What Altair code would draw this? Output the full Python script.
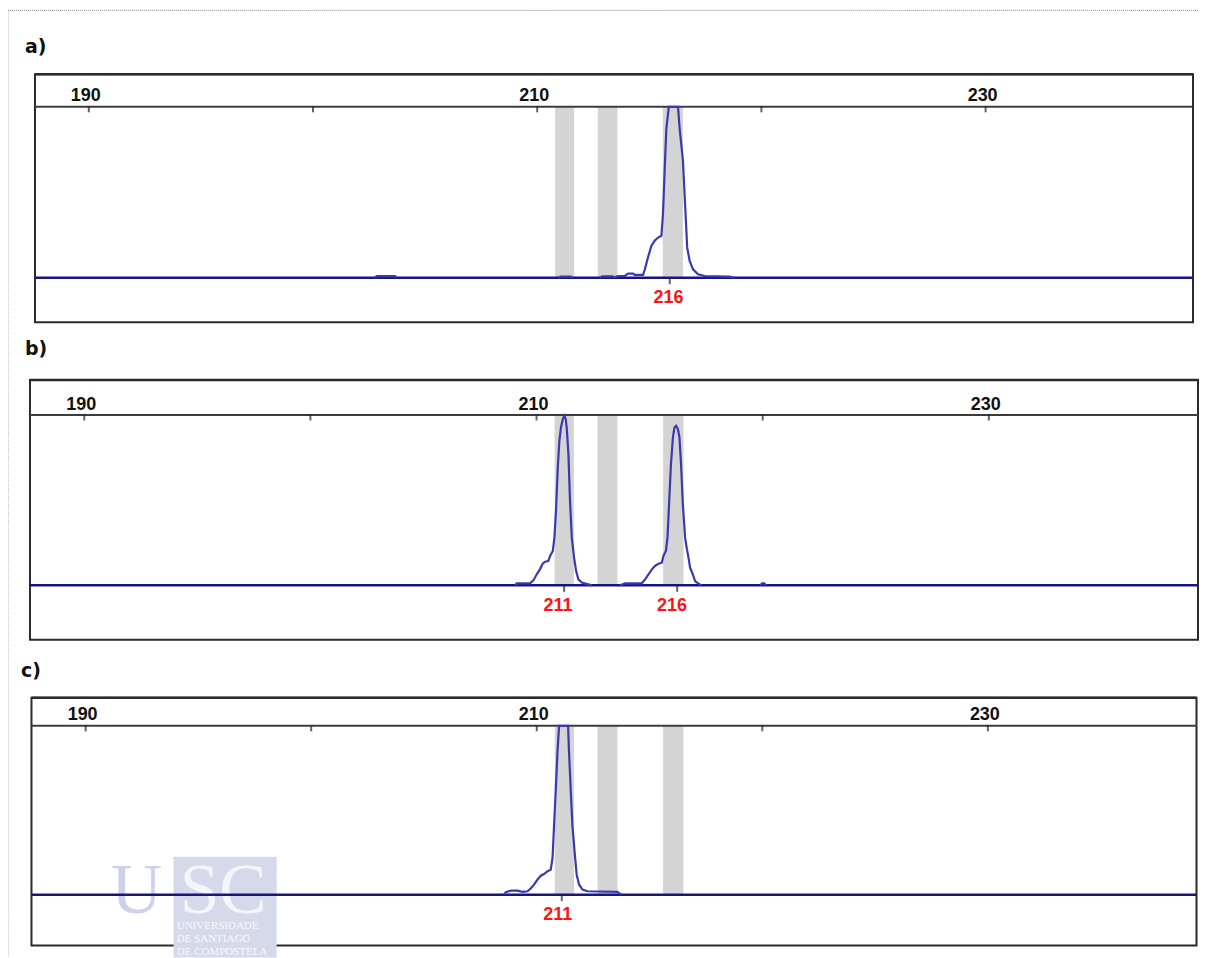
import altair as alt
import pandas as pd

# ---------------- data ----------------
X_DOMAIN = [187.6, 239.25]
tick_pos = [190, 200, 210, 220, 230]
label_pos = [190, 210, 230]
label_txt = ["190", "210", "230"]

bin_lo = [210.8, 212.7, 215.6]
bin_hi = [211.65, 213.58, 216.5]

# panel a trace (size in bp, relative height where 100 = top of the data area)
a_seg = [0, 0, 0, 0,
         1, 1, 1, 1,
         2, 2, 2, 2, 2, 2, 2, 2, 2, 2, 2, 2, 2, 2, 2, 2, 2, 2, 2, 2, 2, 2, 2, 2, 2, 2, 2, 2, 2, 2, 2]
a_bp = [202.75, 202.85, 203.65, 203.75,
        210.95, 211.05, 211.5, 211.6,
        212.8, 212.9, 213.35, 213.45, 213.61, 213.91, 214.05, 214.28, 214.35, 214.72, 214.80,
        214.94, 215.09, 215.24, 215.39, 215.54, 215.61, 215.69, 215.76, 215.87, 216.28, 216.36,
        216.50, 216.61, 216.69, 216.80, 216.95, 217.17, 217.47, 218.58, 218.80]
a_rfu = [0, 0.9, 0.9, 0,
         0, 0.7, 0.7, 0,
         0, 0.8, 0.8, 0.3, 1.0, 1.0, 2.4, 2.4, 1.6, 1.6, 4.9,
         11.8, 18.6, 21.6, 23.5, 24.5, 37.3, 64.7, 87.3, 100, 100, 86.3,
         68.6, 39.2, 17.6, 9.8, 4.9, 2.0, 1.0, 0.6, 0]

# panel b trace
b_seg = [0] * 29 + [1] * 29 + [2] * 4
b_bp = [209.05, 209.12, 209.71, 209.86, 210.01, 210.15, 210.27, 210.38, 210.52, 210.60,
        210.72, 210.79, 210.86, 210.94, 211.01, 211.08, 211.16, 211.23, 211.29, 211.34,
        211.41, 211.48, 211.56, 211.66, 211.75, 211.85, 212.00, 212.29, 212.44,
        213.69, 213.92, 214.65, 214.80, 214.95, 215.10, 215.24, 215.39, 215.54, 215.61,
        215.72, 215.79, 215.86, 215.94, 216.03, 216.10, 216.17, 216.25, 216.32, 216.39,
        216.47, 216.57, 216.65, 216.72, 216.79, 216.91, 217.01, 217.16, 217.31,
        219.90, 219.97, 220.07, 220.15]
b_rfu = [0, 1.2, 1.2, 2.9, 6.5, 9.4, 12.7, 13.9, 14.3, 17.3,
         20.2, 28, 43.7, 69.2, 84.9, 92.7, 97.6, 99.6, 97.6, 91.8,
         77, 49.6, 28, 16.3, 8.4, 3.5, 1.6, 0.6, 0,
         0, 1.2, 1.2, 3.5, 6.5, 9.4, 11.4, 12.7, 13.3, 17.3,
         20.2, 28, 47.6, 70.2, 86.9, 92.7, 93.7, 91.8, 86.9, 71.2,
         47.6, 28, 21.2, 16.3, 10.4, 6.5, 2.5, 1.0, 0,
         0, 1.2, 1.2, 0]

# panel c trace
c_seg = [0] * 29
c_bp = [208.55, 208.63, 208.85, 209.14, 209.37, 209.59, 209.73, 209.88, 210.03, 210.18,
        210.32, 210.47, 210.62, 210.70, 210.77, 210.84, 210.92, 210.99, 211.39, 211.43,
        211.51, 211.58, 211.69, 211.77, 211.88, 212.03, 212.25, 213.58, 213.73]
c_rfu = [0, 1.4, 2.4, 2.4, 1.6, 2.0, 3.6, 5.9, 8.9, 11.2,
         12.2, 13.8, 14.8, 21.7, 41.4, 61.1, 84.8, 100, 100, 84.8,
         61.1, 41.4, 23.7, 11.8, 5.9, 3.0, 2.0, 1.6, 0]

# called alleles: text, peak position (tick), label position
a_allele = ["216"]
a_allele_bp = [215.91]
a_allele_lbl = [215.86]
b_allele = ["211", "216"]
b_allele_bp = [211.22, 216.22]
b_allele_lbl = [210.95, 215.99]
c_allele = ["211"]
c_allele_bp = [211.11]
c_allele_lbl = [210.93]

wm_lines_txt = ["UNIVERSIDADE", "DE SANTIAGO", "DE COMPOSTELA"]

# ---------------- styling ----------------
TRACE = "#3a3aae"
BASE = "#16167e"
BIN = "#d4d4d4"
LABEL_FONT = "Liberation Sans"
ONE = pd.DataFrame({"k": [0]})


def panel(name, name_dx, name_dy, seg, bp, rfu, alleles, allele_bp, allele_lbl,
          width, height, ydom, watermark=False, frame=False):
    xs = alt.Scale(domain=X_DOMAIN, nice=False, zero=False)
    ys = alt.Scale(domain=ydom, nice=False, zero=False)

    trace_df = pd.DataFrame({"seg": seg, "bp": bp, "rfu": rfu})
    bins_df = pd.DataFrame({"lo": bin_lo, "hi": bin_hi})
    ticks_df = pd.DataFrame({"t": tick_pos})
    tlab_df = pd.DataFrame({"t": label_pos, "txt": label_txt})
    al_df = pd.DataFrame({"a": alleles, "bp": allele_bp, "lbl": allele_lbl})

    layers = []
    if frame:
        # dotted page frame (top and left)
        layers.append(alt.Chart(ONE).mark_rule(color="#8a8a8a", strokeWidth=1, strokeDash=[1, 1]).encode(
            x=alt.value(-27), y=alt.value(-64), y2=alt.value(884)))
        layers.append(alt.Chart(ONE).mark_rule(color="#8a8a8a", strokeWidth=1, strokeDash=[1, 1]).encode(
            x=alt.value(-27), x2=alt.value(1165), y=alt.value(-64)))

    bins = alt.Chart(bins_df).mark_rect(color=BIN).encode(
        x=alt.X("lo:Q", scale=xs, axis=None), x2="hi:Q",
        y=alt.YDatum(0, scale=ys, axis=None), y2=alt.Y2Datum(100))
    axis_line = alt.Chart(ONE).mark_rule(color="#3c3c3c", strokeWidth=2).encode(
        y=alt.YDatum(100, scale=ys, axis=None))
    ticks = alt.Chart(ticks_df).mark_tick(orient="vertical", size=6, thickness=2,
                                         color="#222222", yOffset=2.5).encode(
        x=alt.X("t:Q", scale=xs, axis=None), y=alt.YDatum(100, scale=ys, axis=None))
    tlabels = alt.Chart(tlab_df).mark_text(font=LABEL_FONT, fontSize=18, fontWeight="bold",
                                          baseline="alphabetic", dy=-5.5, dx=-3,
                                          color="#111111").encode(
        x=alt.X("t:Q", scale=xs, axis=None), y=alt.YDatum(100, scale=ys, axis=None), text="txt:N")
    title = alt.Chart(ONE).mark_text(text=name, font="DejaVu Sans", fontSize=19, fontWeight="bold",
                                     align="left", baseline="alphabetic", dx=name_dx, dy=name_dy,
                                     color="#111111").encode(
        x=alt.XDatum(X_DOMAIN[0], scale=xs, axis=None), y=alt.YDatum(ydom[1], scale=ys, axis=None))
    baseline = alt.Chart(ONE).mark_rule(color=BASE, strokeWidth=2.5).encode(
        y=alt.YDatum(0, scale=ys, axis=None))
    trace = alt.Chart(trace_df).mark_line(color=TRACE, strokeWidth=2.2, interpolate="linear").encode(
        x=alt.X("bp:Q", scale=xs, axis=None), y=alt.Y("rfu:Q", scale=ys, axis=None),
        detail="seg:N", order="bp:Q")
    al_ticks = alt.Chart(al_df).mark_tick(orient="vertical", size=6, thickness=2,
                                          color="#222222", yOffset=3.5).encode(
        x=alt.X("bp:Q", scale=xs, axis=None), y=alt.YDatum(0, scale=ys, axis=None))
    al_labels = alt.Chart(al_df).mark_text(font=LABEL_FONT, fontSize=18, fontWeight="bold",
                                           baseline="alphabetic", dy=25.5, color="#ff1414").encode(
        x=alt.X("lbl:Q", scale=xs, axis=None), y=alt.YDatum(0, scale=ys, axis=None), text="a:N")
    top_border = alt.Chart(ONE).mark_rule(color="#2a2a2a", strokeWidth=2.5).encode(
        y=alt.YDatum(ydom[1], scale=ys, axis=None))

    layers += [bins, axis_line, ticks, tlabels, title]

    if watermark:
        wm_rect = alt.Chart(ONE).mark_rect(color="#d5d9ea").encode(
            x=alt.XDatum(193.9, scale=xs, axis=None), x2=alt.X2Datum(198.47),
            y=alt.YDatum(22.5, scale=ys, axis=None), y2=alt.Y2Datum(-37.3))
        wm_u = alt.Chart(ONE).mark_text(text="U", font="Liberation Serif", fontSize=71,
                                        align="center", baseline="alphabetic",
                                        color="#cdd2e8").encode(
            x=alt.XDatum(192.26, scale=xs, axis=None), y=alt.YDatum(-10.65, scale=ys, axis=None))
        wm_sc = alt.Chart(ONE).mark_text(text="SC", font="Liberation Serif", fontSize=71,
                                         align="left", baseline="alphabetic",
                                         color="#f5f6fb").encode(
            x=alt.XDatum(194.17, scale=xs, axis=None), y=alt.YDatum(-10.65, scale=ys, axis=None))
        layers += [wm_rect, wm_u, wm_sc]
        for txt, yv in zip(wm_lines_txt, [-20.3, -28.2, -35.5]):
            layers.append(alt.Chart(ONE).mark_text(text=txt, font="Liberation Serif",
                                                   fontSize=11, align="left",
                                                   baseline="alphabetic",
                                                   color="#f7f8fc").encode(
                x=alt.XDatum(194.04, scale=xs, axis=None), y=alt.YDatum(yv, scale=ys, axis=None)))

    layers += [baseline, trace, al_ticks, al_labels, top_border]

    return alt.layer(*layers).properties(width=width, height=height)


pa = panel("a)", -10, -21, a_seg, a_bp, a_rfu, a_allele, a_allele_bp, a_allele_lbl,
           1159, 248, [-26.0, 119.0], frame=True)
pb = panel("b)", -5, -25, b_seg, b_bp, b_rfu, b_allele, b_allele_bp, b_allele_lbl,
           1169, 260, [-32.0, 120.5])
pc = panel("c)", -10.5, -20.5, c_seg, c_bp, c_rfu, c_allele, c_allele_bp, c_allele_lbl,
           1166, 248, [-30.2, 116.6], watermark=True)

chart = alt.vconcat(pa, pb, pc, spacing=58, center=True, bounds="flush").properties(
    padding={"left": -2, "top": 0, "right": 0, "bottom": 0}
).configure(
    background="white",
    view=alt.ViewConfig(stroke="#2b2b2b", strokeWidth=2),
)

chart.save("out.html", embed_options={"renderer": "svg", "actions": False})
